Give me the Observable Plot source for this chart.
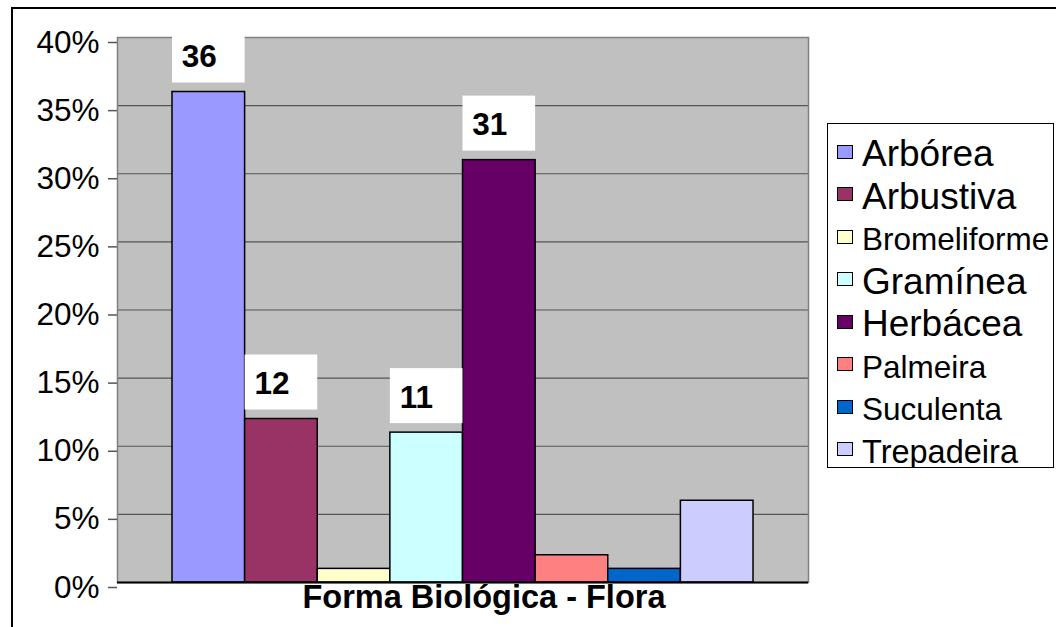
<!DOCTYPE html>
<html><head><meta charset="utf-8">
<script src="https://cdn.jsdelivr.net/npm/d3@7"></script>
<script src="https://cdn.jsdelivr.net/npm/@observablehq/plot@0.6"></script>
<style>
body{margin:0;background:#fff;font-family:"Liberation Sans",Arial,sans-serif;}
#wrap{position:relative;width:1056px;height:627px;overflow:hidden;background:#fff;}
#border{position:absolute;left:11px;top:7px;width:1100px;height:700px;border:2px solid #000;}
#chart{position:absolute;left:0;top:0;}
#legend{position:absolute;left:827px;top:123px;width:227px;height:345px;border:1px solid #000;background:#fff;box-sizing:border-box;padding-top:9px;overflow:hidden;}
#legend .row{height:42.5px;line-height:42px;white-space:nowrap;padding-left:9px;color:#000;}
#legend .sw{display:inline-block;width:14px;height:12px;border:1.5px solid #000;margin-right:9px;vertical-align:baseline;margin-bottom:0.2em;}
</style></head>
<body>
<div id="wrap"><div id="border"></div><div id="chart"></div><div id="legend"></div></div>
<script>
const categories = ["Arbórea","Arbustiva","Bromeliforme","Gramínea","Herbácea","Palmeira","Suculenta","Trepadeira"];
const values = [36,12,1,11,31,2,1,6];
const colors = ["#9999ff","#993366","#ffffcc","#ccffff","#660066","#ff8080","#0066cc","#ccccff"];
const yTicks = [0,5,10,15,20,25,30,35,40];
const labeled = ["Arbórea","Arbustiva","Gramínea","Herbácea"];
const axisTitle = "Forma Biológica - Flora";

const data = categories.map((c,i)=>({cat:c, value:values[i]}));
const labelData = data.filter(d=>labeled.includes(d.cat));

const chart = Plot.plot({
  width:1056, height:627,
  marginLeft:117, marginRight:248, marginTop:37, marginBottom:45,
  style:{fontFamily:"'Liberation Sans', Arial, sans-serif", background:"transparent", overflow:"visible", color:"#000"},
  x:{type:"band", domain:categories, paddingInner:0, paddingOuter:0.757, round:false, axis:null},
  y:{domain:[0,40]},
  color:{domain:categories, range:colors},
  marks:[
    Plot.frame({fill:"#c0c0c0"}),
    Plot.ruleY(yTicks.slice(1), {stroke:"#555", strokeWidth:1.2}),
    Plot.frame({stroke:"#808080", strokeWidth:1.5}),
    Plot.axisY({ticks:yTicks, tickFormat:d=>d+"%", tickSize:9, tickPadding:9, fontSize:31.5, dy:5, stroke:"#555", strokeWidth:1.5, label:null, fill:"#000"}),
    Plot.ruleX([0], {frameAnchor:"left", stroke:"#666", strokeWidth:1.5}),
    Plot.barY(data, {x:"cat", y:"value", fill:"cat", stroke:"#000", strokeWidth:1.5, inset:0}),
    Plot.ruleY([0], {stroke:"#000", strokeWidth:2}),
    Plot.barY(labelData, {x:"cat", y1:"value", y2:"value", fill:"white", insetTop:-64, insetBottom:9}),
    Plot.text(labelData, {x:"cat", y:"value", text:d=>String(d.value), dx:-27, dy:-35, textAnchor:"start", fontSize:31.5, fontWeight:"bold", fill:"#000"}),
    Plot.text([axisTitle], {frameAnchor:"bottom", dx:21, dy:25, fontSize:32.5, fontWeight:"bold", fill:"#000"})
  ]
});
document.getElementById("chart").appendChild(chart);

const big = new Set(["Arbórea","Arbustiva","Gramínea","Herbácea"]);
const legend = document.getElementById("legend");
categories.forEach((c,i)=>{
  const row = document.createElement("div");
  row.className = "row";
  row.style.fontSize = big.has(c) ? "37px" : (c==="Trepadeira" ? "32.5px" : "31.5px");
  const sw = document.createElement("span");
  sw.className = "sw";
  sw.style.background = colors[i];
  row.appendChild(sw);
  row.appendChild(document.createTextNode(c));
  legend.appendChild(row);
});
</script>
</body></html>
